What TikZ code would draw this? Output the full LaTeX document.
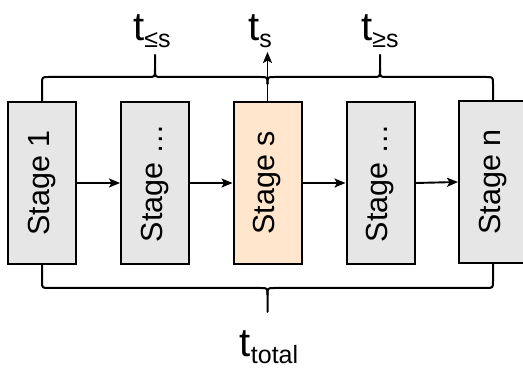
\documentclass[tikz,border=0pt]{standalone}
\usepackage{fontspec}
\setmainfont{Liberation Sans}
\usetikzlibrary{arrows.meta}
\definecolor{stagegray}{RGB}{230,230,230}
\definecolor{stageorange}{RGB}{255,230,204}
\begin{document}
\begin{tikzpicture}[x=1pt,y=-1pt,
  stagebox/.style={draw=black, line width=2pt, fill=#1, minimum width=68pt,
    minimum height=162pt, inner sep=0pt, text=black,
    font=\fontsize{30.5}{30.5}\selectfont},
  flow/.style={line width=1.9pt, -{Stealth[length=11pt,width=9pt,inset=2.5pt]}},
  brace/.style={line width=2pt, line cap=round, line join=round},
  tlabel/.style={anchor=base, inner sep=0pt}]
\useasboundingbox (0,0) rectangle (523,371);
\begin{scope}
\clip (0,0) rectangle (523,371);
% stage boxes
\node[stagebox=stagegray] (s1) at (42,183) {\rotatebox{90}{Stage 1}};
\node[stagebox=stagegray] (s2) at (155,183) {\rotatebox{90}{Stage \dots}};
\node[stagebox=stageorange] (ss) at (267.5,183) {\rotatebox{90}{Stage s}};
\node[stagebox=stagegray] (s4) at (380.5,183) {\rotatebox{90}{Stage \dots}};
\node[stagebox=stagegray] (sn) at (493,182) {\rotatebox{90}{Stage n}};
\end{scope}
% flow between stages
\draw[flow] (s1.east) -- (s2.west);
\draw[flow] (s2.east) -- (ss.west);
\draw[flow] (ss.east) -- (s4.west);
\draw[flow] (s4.east) -- (sn.west);
% braces above
\coordinate (tipL) at (155,55);
\coordinate (tipR) at (380,55);
\coordinate (tipB) at (267.5,312);
\draw[brace] (s1.north) -- (42,84) .. controls (42,77) .. (49,77) -- (148,77)
  .. controls (155,77) .. (155,70) -- (tipL);
\draw[brace] (155,70) .. controls (155,77) .. (162,77) -- (260.5,77)
  .. controls (267.5,77) .. (267.5,84);
\draw[brace] (267.5,84) .. controls (267.5,77) .. (274.5,77) -- (373,77)
  .. controls (380,77) .. (380,70) -- (tipR);
\draw[brace] (380,70) .. controls (380,77) .. (387,77) -- (486,77)
  .. controls (493,77) .. (493,84) -- (sn.north);
\coordinate (tipS) at (267.5,52);
\draw[flow] (ss.north) -- (tipS);
% brace below
\draw[brace] (s1.south) -- (42,281) .. controls (42,288) .. (49,288) -- (260.5,288)
  .. controls (267.5,288) .. (267.5,295) -- (tipB);
\draw[brace] (267.5,295) .. controls (267.5,288) .. (274.5,288) -- (486,288)
  .. controls (493,288) .. (493,281) -- (sn.south);
% labels
\newcommand{\tlab}[1]{{\fontsize{40}{40}\selectfont t}\raisebox{-7pt}{\fontsize{25}{25}\selectfont #1}}
\node[tlabel] (lle) at (152,41) {\tlab{≤s}};
\node[tlabel] (ls) at (260,41) {\tlab{s}};
\node[tlabel] (lge) at (380,41) {\tlab{≥s}};
\node[tlabel] (lt) at (269,357) {\tlab{total}};
\end{tikzpicture}
\end{document}
